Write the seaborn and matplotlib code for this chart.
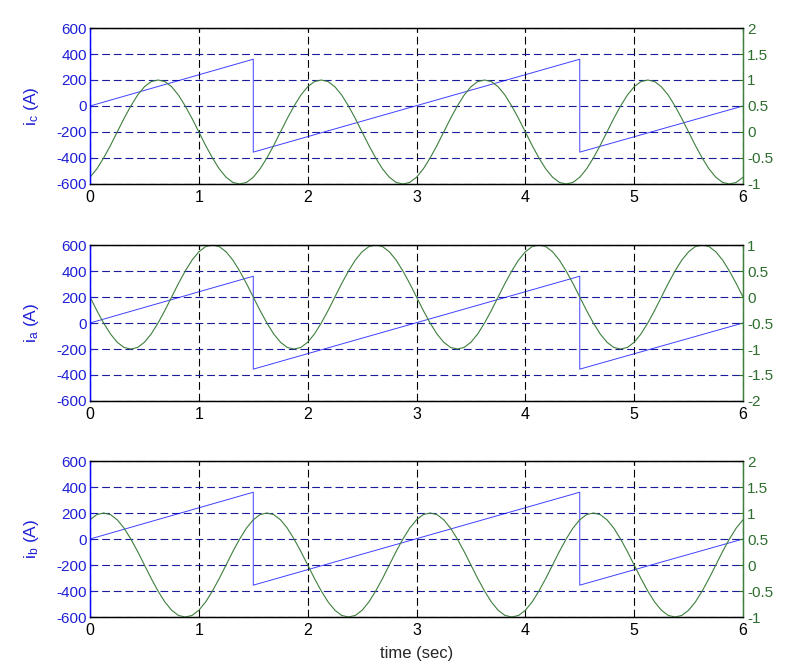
import numpy as np
import matplotlib
matplotlib.use('Agg')
import matplotlib.pyplot as plt
import seaborn as sns

# blue sawtooth current (left axis, A) - same in all three panels
t_saw = [0, 1.5, 1.5, 4.5, 4.5, 6]
i_saw = [0, 360, -355, 360, -355, 0]

# green reference waves (right axis), read every 0.0625 s, first point is the start-up sample
t_wave = np.r_[0.0, np.linspace(0, 6, 97)]

wave_c = [0.00,
          -0.87, -0.71, -0.50, -0.26, 0.00, 0.26, 0.50, 0.71, 0.87, 0.97,
          1.00, 0.97, 0.87, 0.71, 0.50, 0.26, 0.00, -0.26, -0.50, -0.71, -0.87, -0.97,
          -1.00, -0.97, -0.87, -0.71, -0.50, -0.26, 0.00, 0.26, 0.50, 0.71, 0.87, 0.97,
          1.00, 0.97, 0.87, 0.71, 0.50, 0.26, 0.00, -0.26, -0.50, -0.71, -0.87, -0.97,
          -1.00, -0.97, -0.87, -0.71, -0.50, -0.26, 0.00, 0.26, 0.50, 0.71, 0.87, 0.97,
          1.00, 0.97, 0.87, 0.71, 0.50, 0.26, 0.00, -0.26, -0.50, -0.71, -0.87, -0.97,
          -1.00, -0.97, -0.87, -0.71, -0.50, -0.26, 0.00, 0.26, 0.50, 0.71, 0.87, 0.97,
          1.00, 0.97, 0.87, 0.71, 0.50, 0.26, 0.00, -0.26, -0.50, -0.71, -0.87, -0.97,
          -1.00, -0.97, -0.87]

wave_a = [0.00,
          0.00, -0.26, -0.50, -0.71, -0.87, -0.97,
          -1.00, -0.97, -0.87, -0.71, -0.50, -0.26, 0.00, 0.26, 0.50, 0.71, 0.87, 0.97,
          1.00, 0.97, 0.87, 0.71, 0.50, 0.26, 0.00, -0.26, -0.50, -0.71, -0.87, -0.97,
          -1.00, -0.97, -0.87, -0.71, -0.50, -0.26, 0.00, 0.26, 0.50, 0.71, 0.87, 0.97,
          1.00, 0.97, 0.87, 0.71, 0.50, 0.26, 0.00, -0.26, -0.50, -0.71, -0.87, -0.97,
          -1.00, -0.97, -0.87, -0.71, -0.50, -0.26, 0.00, 0.26, 0.50, 0.71, 0.87, 0.97,
          1.00, 0.97, 0.87, 0.71, 0.50, 0.26, 0.00, -0.26, -0.50, -0.71, -0.87, -0.97,
          -1.00, -0.97, -0.87, -0.71, -0.50, -0.26, 0.00, 0.26, 0.50, 0.71, 0.87, 0.97,
          1.00, 0.97, 0.87, 0.71, 0.50, 0.26, 0.00]

wave_b = [0.00,
          0.87, 0.97,
          1.00, 0.97, 0.87, 0.71, 0.50, 0.26, 0.00, -0.26, -0.50, -0.71, -0.87, -0.97,
          -1.00, -0.97, -0.87, -0.71, -0.50, -0.26, 0.00, 0.26, 0.50, 0.71, 0.87, 0.97,
          1.00, 0.97, 0.87, 0.71, 0.50, 0.26, 0.00, -0.26, -0.50, -0.71, -0.87, -0.97,
          -1.00, -0.97, -0.87, -0.71, -0.50, -0.26, 0.00, 0.26, 0.50, 0.71, 0.87, 0.97,
          1.00, 0.97, 0.87, 0.71, 0.50, 0.26, 0.00, -0.26, -0.50, -0.71, -0.87, -0.97,
          -1.00, -0.97, -0.87, -0.71, -0.50, -0.26, 0.00, 0.26, 0.50, 0.71, 0.87, 0.97,
          1.00, 0.97, 0.87, 0.71, 0.50, 0.26, 0.00, -0.26, -0.50, -0.71, -0.87, -0.97,
          -1.00, -0.97, -0.87, -0.71, -0.50, -0.26, 0.00, 0.26, 0.50, 0.71, 0.87]

left_ticks = [-600, -400, -200, 0, 200, 400, 600]
x_ticks = [0, 1, 2, 3, 4, 5, 6]

panels = [
    ('c', wave_c, (-1, 2), [-1, -0.5, 0, 0.5, 1, 1.5, 2], ['-1', '-0.5', '0', '0.5', '1', '1.5', '2']),
    ('a', wave_a, (-2, 1), [-2, -1.5, -1, -0.5, 0, 0.5, 1], ['-2', '-1.5', '-1', '-0.5', '0', '0.5', '1']),
    ('b', wave_b, (-1, 2), [-1, -0.5, 0, 0.5, 1, 1.5, 2], ['-1', '-0.5', '0', '0.5', '1', '1.5', '2']),
]

sns.set_style('white')
plt.rcParams['font.family'] = ['Liberation Sans', 'DejaVu Sans']
plt.rcParams['font.size'] = 11

blue = '#0000ff'
label_blue = '#1f1fd6'
grid_blue = '#1a1a9a'
green = '#3d7f3d'
label_green = '#2e6e2e'

fig = plt.figure(figsize=(8.03, 6.70), dpi=100)
bottoms = [0.7254, 0.4015, 0.0791]

for (name, wave, rlim, rticks, rlabels), b in zip(panels, bottoms):
    ax = fig.add_axes([0.1121, b, 0.8132, 0.2328])
    ax2 = ax.twinx()

    sns.lineplot(x=t_saw, y=i_saw, ax=ax, color=blue, lw=0.7, alpha=0.75,
                 estimator=None, sort=False)
    sns.lineplot(x=t_wave, y=wave, ax=ax2, color=green, lw=0.8,
                 estimator=None, sort=False)

    ax.set_xlim(0, 6)
    ax.set_ylim(-600, 600)
    ax.set_xticks(x_ticks)
    ax.set_yticks(left_ticks)
    ax.set_yticklabels([str(v) for v in left_ticks])
    ax2.set_ylim(*rlim)
    ax2.set_yticks(rticks)
    ax2.set_yticklabels(rlabels)

    ax.grid(axis='y', color=grid_blue, linestyle=(0, (7, 3.5)), lw=0.8)
    ax.grid(axis='x', color='black', linestyle=(0, (7, 3.5)), lw=0.8)
    ax.set_axisbelow(True)

    ax.tick_params(axis='y', colors=label_blue, direction='in', length=3, width=0.8, pad=2,
                   labelsize=11)
    ax.tick_params(axis='x', colors='black', direction='in', length=3, width=0.8, pad=4,
                   top=True, labelsize=11.5)
    ax2.tick_params(axis='y', colors=label_green, direction='in', length=3, width=0.8, pad=3,
                    labelsize=11)

    for a in (ax, ax2):
        a.spines['left'].set_color(blue)
        a.spines['right'].set_color(green)
        a.spines['top'].set_color('black')
        a.spines['bottom'].set_color('black')
        for s in a.spines.values():
            s.set_linewidth(0.9)

    ax.set_ylabel('$\\mathregular{i_%s}$ (A)' % name, color=label_blue, fontsize=12.5, labelpad=11)
    ax2.set_ylabel('')

ax.set_xlabel('time (sec)', fontsize=12, labelpad=6)

fig.savefig('out.png', dpi=100)
